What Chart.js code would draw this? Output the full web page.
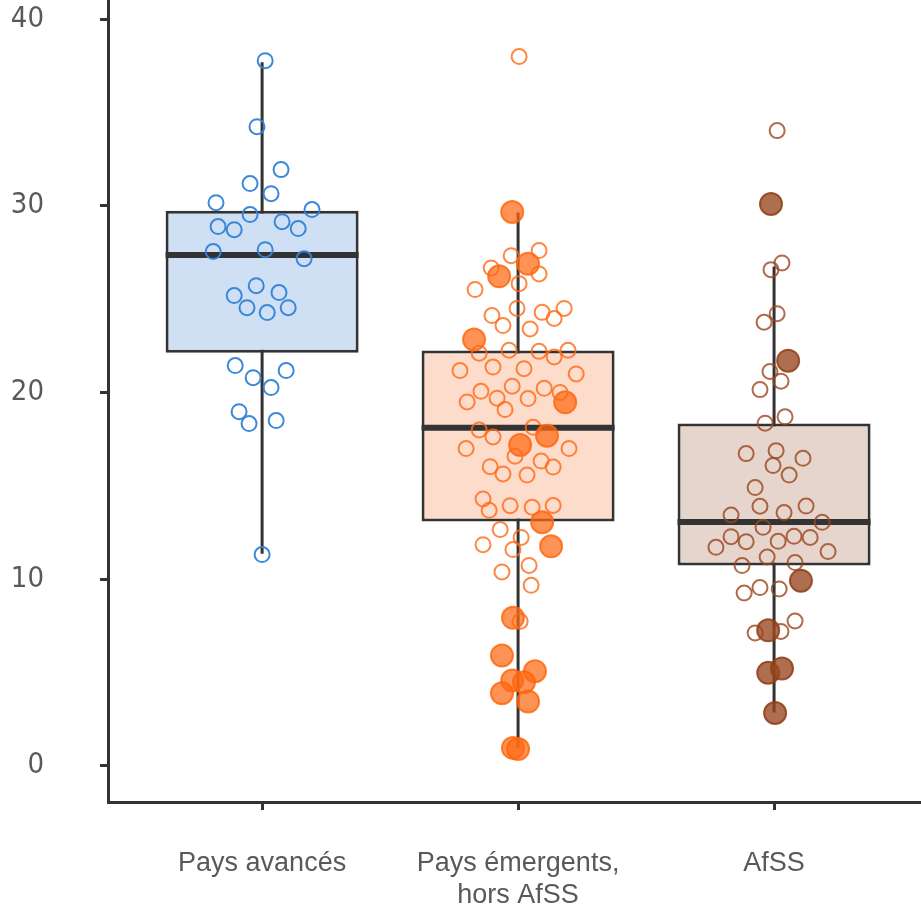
<!DOCTYPE html>
<html>
<head>
<meta charset="utf-8">
<script src="https://cdn.jsdelivr.net/npm/chart.js@4.4.1/dist/chart.umd.min.js"></script>
<style>
  html, body { margin: 0; padding: 0; background: #fff; }
  #wrap { width: 921px; height: 908px; }
</style>
</head>
<body>
<div id="wrap"><canvas id="chart" width="921" height="908"></canvas></div>
<script>
// categories and box stats
const CATEGORIES = ['Pays avancés', ['Pays émergents,', 'hors AfSS'], 'AfSS'];
const CAT_POS    = [1, 2, 3];
const BOX_Q1     = [22.13, 13.08, 10.72];
const BOX_Q3     = [29.74, 22.24, 18.33];
const BOX_MED    = [27.36, 18.11, 13.05];
const WHISK_LO   = [11.36, 0.96, 2.85];
const WHISK_HI   = [37.70, 29.64, 26.75];
const Y_TICKS    = [0, 10, 20, 30, 40];

// Pays avancés (hollow)
const AV_VALUES = [37.78, 34.24, 31.94, 31.19, 30.65, 30.17, 29.80, 29.53, 29.15, 28.89, 28.72, 28.78, 27.55, 27.65, 27.17,
                   25.72, 25.19, 25.35, 24.54, 24.28, 24.54, 21.44, 20.79, 21.17, 20.26, 18.97, 18.33, 18.49, 11.31];
const AV_JITTER = [0.012, -0.020, 0.074, -0.047, 0.035, -0.180, 0.195, -0.047, 0.078, -0.172, -0.109, 0.141, -0.191, 0.012, 0.164,
                   -0.023, -0.109, 0.066, -0.059, 0.020, 0.102, -0.105, -0.035, 0.094, 0.035, -0.090, -0.051, 0.055, 0.000];

// Pays émergents, hors AfSS
const EM_VALUES = [38.00, 27.33, 27.60, 26.67, 26.35, 25.83, 25.51, 24.50, 24.12, 24.29, 24.50, 23.96, 23.58, 23.40, 22.10,
                   22.26, 22.20, 21.90, 22.26, 21.17, 21.36, 21.27, 20.99, 20.06, 20.33, 20.22, 20.00, 19.49, 19.69, 19.67,
                   19.08, 17.99, 17.61, 18.13, 16.99, 16.58, 16.99, 16.02, 16.32, 16.00, 15.63, 15.57, 14.29, 13.68, 13.93,
                   13.84, 13.94, 12.65, 12.23, 11.84, 11.58, 10.73, 10.38, 9.66, 7.73];
const EM_JITTER = [0.004, -0.027, 0.082, -0.105, 0.082, 0.004, -0.168, -0.004, -0.102, 0.094, 0.180, 0.141, -0.059, 0.047, -0.152,
                   -0.035, 0.082, 0.141, 0.195, -0.227, -0.098, 0.023, 0.227, -0.145, -0.023, 0.102, 0.164, -0.199, -0.082, 0.039,
                   -0.051, -0.152, -0.098, 0.059, -0.203, -0.012, 0.199, -0.109, 0.090, 0.137, -0.059, 0.035, -0.137, -0.113, -0.031,
                   0.055, 0.137, -0.070, 0.012, -0.137, -0.020, 0.043, -0.063, 0.051, 0.008];
const EM_HL_VALUES = [29.67, 26.89, 26.22, 22.83, 19.47, 17.68, 17.18, 13.04, 11.75, 7.92, 5.90, 5.06, 4.56, 4.47, 3.88, 3.44, 0.95, 0.89];
const EM_HL_JITTER = [-0.023, 0.039, -0.074, -0.172, 0.184, 0.113, 0.008, 0.094, 0.129, -0.020, -0.063, 0.066, -0.023, 0.023, -0.063, 0.039, -0.020, 0.000];

// AfSS
const AF_VALUES = [34.03, 26.94, 26.58, 24.22, 23.76, 21.12, 20.60, 20.15, 18.69, 18.35, 16.72, 16.88, 16.47, 16.08, 15.57,
                   14.90, 13.90, 13.56, 13.91, 13.43, 13.04, 12.77, 12.27, 12.00, 12.02, 12.29, 12.23, 11.70, 11.18, 11.47,
                   10.72, 10.88, 9.25, 9.54, 9.47, 7.75, 7.11, 7.19];
const AF_JITTER = [0.012, 0.031, -0.012, 0.012, -0.039, -0.016, 0.027, -0.055, 0.043, -0.035, -0.109, 0.008, 0.113, -0.004, 0.059,
                   -0.074, -0.055, 0.039, 0.125, -0.168, 0.188, -0.043, -0.168, -0.109, 0.016, 0.078, 0.141, -0.227, -0.027, 0.211,
                   -0.125, 0.082, -0.117, -0.055, 0.020, 0.082, -0.074, 0.027];
const AF_HL_VALUES = [30.10, 21.70, 9.91, 7.25, 4.97, 5.21, 2.82];
const AF_HL_JITTER = [-0.012, 0.055, 0.105, -0.023, -0.023, 0.031, 0.004];

const BOX_FILL = ['#cfe0f5', '#fddccb', '#e6d5cc'];
const DARK = '#333333';
const TEXT = '#595959';
const BOX_WIDTH = 0.754;   // in x units

const pts = (pos, vals, jit) => vals.map((v, i) => ({ x: pos + jit[i], y: v }));

function hollow(data, color) {
  return { type: 'scatter', data, pointRadius: 7.5, pointBorderWidth: 2,
           pointBackgroundColor: 'rgba(0,0,0,0)', pointBorderColor: color, order: 0 };
}
function filled(data, fill, border) {
  return { type: 'scatter', data, pointRadius: 11, pointBorderWidth: 2,
           pointBackgroundColor: fill, pointBorderColor: border, order: 0 };
}

const datasets = [];

// whiskers
CAT_POS.forEach((p, i) => {
  datasets.push({ type: 'line', data: [{ x: p, y: WHISK_LO[i] }, { x: p, y: WHISK_HI[i] }],
    borderColor: DARK, borderWidth: 3, pointRadius: 0, fill: false, order: 4 });
});

// boxes
datasets.push({
  type: 'bar',
  data: CAT_POS.map((p, i) => ({ x: p, y: [BOX_Q1[i], BOX_Q3[i]] })),
  backgroundColor: BOX_FILL, borderColor: DARK, borderWidth: 3, borderSkipped: false,
  categoryPercentage: 1, barPercentage: BOX_WIDTH, order: 3,
});

// medians
CAT_POS.forEach((p, i) => {
  datasets.push({ type: 'line', data: [{ x: p - BOX_WIDTH / 2, y: BOX_MED[i] }, { x: p + BOX_WIDTH / 2, y: BOX_MED[i] }],
    borderColor: DARK, borderWidth: 6, pointRadius: 0, fill: false, order: 2 });
});

// points
datasets.push(hollow(pts(1, AV_VALUES, AV_JITTER), 'rgba(50,130,215,0.95)'));
datasets.push(hollow(pts(2, EM_VALUES, EM_JITTER), 'rgba(255,105,20,0.8)'));
datasets.push(filled(pts(2, EM_HL_VALUES, EM_HL_JITTER), 'rgba(255,105,20,0.72)', 'rgba(255,100,10,0.8)'));
datasets.push(hollow(pts(3, AF_VALUES, AF_JITTER), 'rgba(155,70,30,0.8)'));
datasets.push(filled(pts(3, AF_HL_VALUES, AF_HL_JITTER), 'rgba(150,70,30,0.78)', 'rgba(145,62,22,0.85)'));

new Chart(document.getElementById('chart').getContext('2d'), {
  type: 'scatter',
  data: { datasets },
  options: {
    responsive: false,
    animation: false,
    layout: { padding: 0, autoPadding: false },
    plugins: { legend: { display: false }, tooltip: { enabled: false } },
    scales: {
      x: {
        type: 'linear', position: 'bottom', offset: false,
        min: 0.398, max: 3.574,
        afterBuildTicks: s => { s.ticks = CAT_POS.map(v => ({ value: v })); },
        afterFit: s => { s.height = 106; s.paddingLeft = 0; s.paddingRight = 0; },
        ticks: {
          autoSkip: false, maxRotation: 0, padding: 37, color: TEXT,
          font: { family: "'Liberation Sans', Arial, sans-serif", size: 27, lineHeight: 1.2 },
          callback: v => CATEGORIES[CAT_POS.indexOf(v)],
        },
        grid: { offset: false, drawOnChartArea: false, tickLength: 8, tickWidth: 3, tickColor: DARK, color: DARK },
        border: { display: true, color: DARK, width: 3 },
      },
      y: {
        type: 'linear', position: 'left',
        min: -1.95, max: 41.03,
        afterBuildTicks: s => { s.ticks = Y_TICKS.map(v => ({ value: v })); },
        afterFit: s => { s.width = 108; s.paddingTop = 0; s.paddingBottom = 0; },
        ticks: {
          padding: 56, color: TEXT,
          font: { family: "'Liberation Sans Narrow', 'Arial Narrow', 'DejaVu Sans Condensed', sans-serif", size: 29 },
        },
        grid: { drawOnChartArea: false, tickLength: 8, tickWidth: 3, tickColor: DARK, color: DARK },
        border: { display: true, color: DARK, width: 3 },
      },
    },
  },
});
</script>
</body>
</html>
